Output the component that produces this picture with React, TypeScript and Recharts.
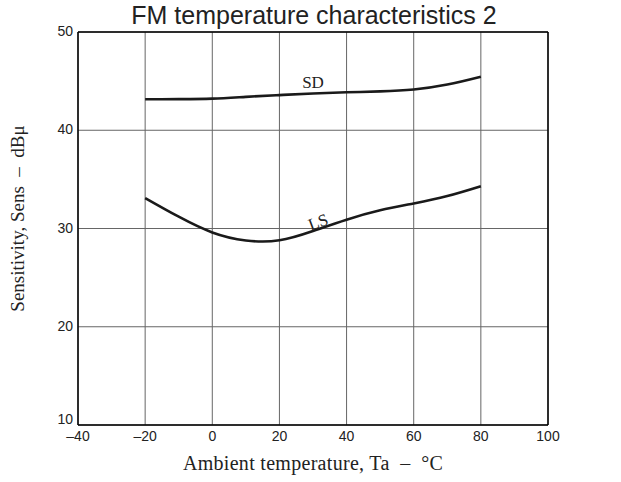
import { LineChart, Line, XAxis, YAxis, CartesianGrid, ReferenceDot, ReferenceLine } from 'recharts';

const temps = [-20, -10, 0, 10, 20, 30, 40, 50, 60, 70, 80];
const sdValues = [43.15, 43.17, 43.22, 43.4, 43.58, 43.74, 43.86, 43.96, 44.15, 44.65, 45.45];
const lsValues = [33.1, 31.2, 29.6, 28.78, 28.8, 29.75, 30.9, 31.85, 32.55, 33.3, 34.3];
const xTicks = [-40, -20, 0, 20, 40, 60, 80, 100];
const yTicks = [10, 20, 30, 40, 50];

const data = temps.map((t, i) => ({ t, sd: sdValues[i], ls: lsValues[i] }));

const sans = 'Liberation Sans, Arial, sans-serif';
const serif = 'Liberation Serif, Times New Roman, serif';

const fmt = (v: number) => String(v).replace('-', '\u2013');

function YTick(props: any) {
  const { x, y, payload } = props;
  const dy = payload.value === 10 ? -6 : -1;
  return (
    <text x={x} y={y + dy} textAnchor="end" dominantBaseline="central" fontFamily={sans} fontSize={14} fill="#222">
      {payload.value}
    </text>
  );
}

function App() {
  return (
    <div style={{ position: 'absolute', left: 0, top: 0, width: 621, height: 482, background: '#fff' }}>
      <div style={{ position: 'absolute', left: 0, top: 0, width: 628, textAlign: 'center', fontFamily: sans, fontSize: 25, color: '#222', lineHeight: '30px' }}>
        FM temperature characteristics 2
      </div>
      <LineChart width={621} height={482} data={data} margin={{ top: 32, right: 73, bottom: 0, left: 0 }}>
        <CartesianGrid stroke="#666" strokeWidth={1} ticks={xTicks} />
        <XAxis
          type="number"
          dataKey="t"
          domain={[-40, 100]}
          ticks={xTicks}
          tickFormatter={fmt}
          tickLine={false}
          tickSize={0}
          tickMargin={6}
          height={57}
          axisLine={{ stroke: '#000', strokeWidth: 1.5 }}
          tick={{ fontFamily: sans, fontSize: 14, fill: '#222' }}
          label={{ value: 'Ambient temperature, Ta\u00a0\u00a0\u2013\u00a0\u00a0\u00b0C', position: 'center', dy: 9, fontFamily: serif, fontSize: 20, letterSpacing: 0.3, fill: '#222' }}
        />
        <YAxis
          type="number"
          domain={[10, 50]}
          ticks={yTicks}
          tickLine={false}
          tickSize={0}
          tickMargin={5}
          width={78}
          axisLine={{ stroke: '#000', strokeWidth: 1.5 }}
          tick={<YTick />}
          label={{ value: 'Sensitivity, Sens\u00a0\u00a0\u2013\u00a0\u00a0dB\u03bc', angle: -90, position: 'center', dx: -22, dy: -10, fontFamily: serif, fontSize: 19, fill: '#222' }}
        />
        <ReferenceLine y={50} stroke="#000" strokeWidth={1.5} />
        <ReferenceLine x={100} stroke="#000" strokeWidth={1.5} />
        <Line type="natural" dataKey="sd" stroke="#1a1a1a" strokeWidth={2.6} dot={false} isAnimationActive={false} />
        <Line type="natural" dataKey="ls" stroke="#1a1a1a" strokeWidth={2.6} dot={false} isAnimationActive={false} />
        <ReferenceDot x={30} y={44.95} r={0} label={{ value: 'SD', position: 'center', fontFamily: serif, fontSize: 17, fill: '#222' }} />
        <ReferenceDot x={31.5} y={30.7} r={0} label={{ value: 'LS', position: 'center', angle: -20, fontFamily: serif, fontSize: 17, fill: '#222' }} />
      </LineChart>
    </div>
  );
}

export default App;
